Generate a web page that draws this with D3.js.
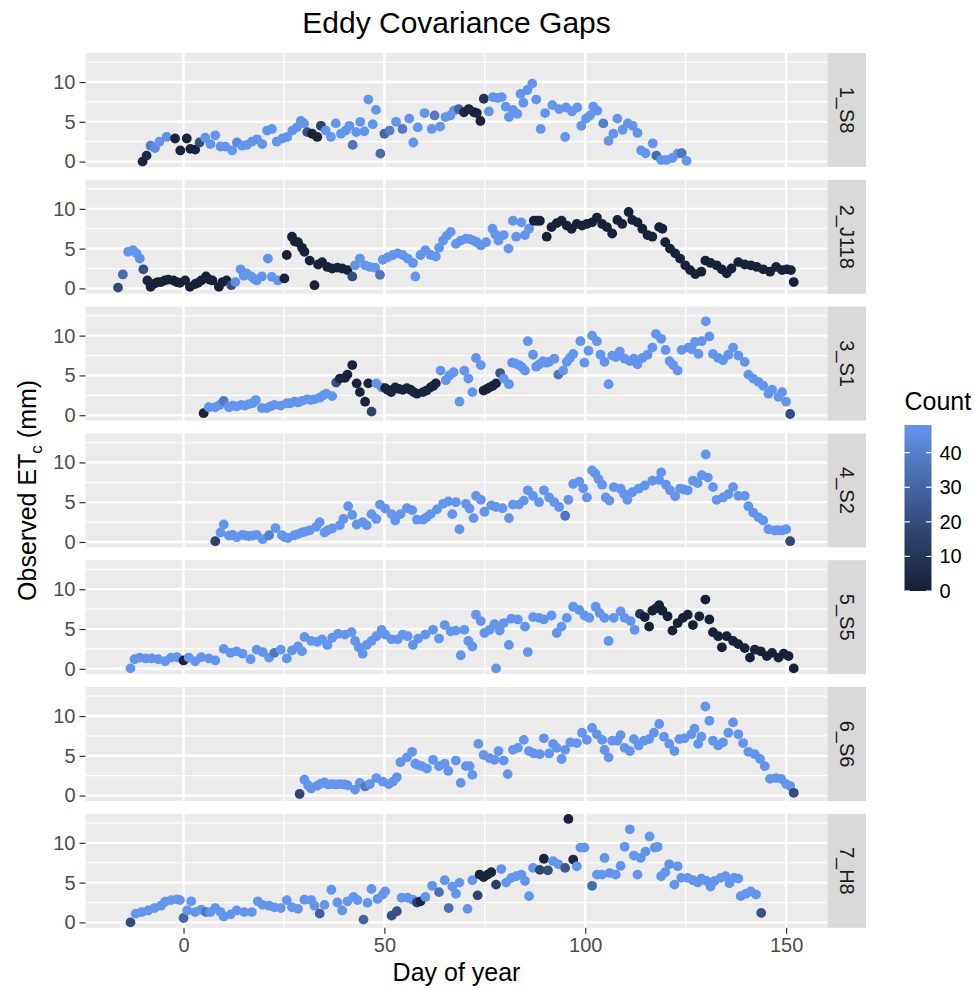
<!DOCTYPE html>
<html>
<head>
<meta charset="utf-8">
<script src="https://cdn.jsdelivr.net/npm/d3@7"></script>
<style>
  body { margin: 0; background: #ffffff; }
  svg { display: block; }
  text { font-family: "Liberation Sans", Arial, Helvetica, sans-serif; }
</style>
</head>
<body>
<svg id="chart" width="975" height="988"></svg>
<script>
// Facet labels (one panel per site)
const sites = ["1_S8", "2_J118", "3_S1", "4_S2", "5_S5", "6_S6", "7_H8"];

// Each record: [day of year, observed ETc (mm), count]
const site1 = [[-10.2,0.0,3],[-9.2,0.75,5],[-8.2,2.0,40],[-7.1,1.7,44],[-6,2.5,48],[-4.2,3.1,46],[-2.1,2.9,2],[-0.8,1.4,2],[0.8,2.9,2],[1.7,1.6,2],[2.9,1.5,2],[4,2.4,20],[5.4,3.0,48],[6.7,2.2,48],[7.9,3.3,48],[9.2,1.9,48],[10.4,1.9,48],[12.1,1.4,48],[13.3,2.4,44],[14.6,2.0,48],[15.8,2.1,48],[17,2.5,48],[18.3,2.8,48],[19.6,2.2,48],[20.8,3.9,48],[22,4.1,48],[23.2,2.5,48],[24.6,2.9,48],[25.8,3.1,48],[27.1,3.9,48],[28.2,4.3,48],[29.2,5.1,48],[30,4.8,48],[30.8,3.7,22],[32,3.5,2],[33.3,3.1,2],[34.2,4.5,15],[35.4,3.9,48],[36.7,3.1,48],[37.9,4.8,48],[39.2,3.5,48],[40.4,3.9,48],[41.3,4.5,48],[42.1,2.1,36],[43,3.7,48],[44,5.0,48],[45,3.8,48],[46,7.8,48],[47.1,4.7,48],[47.9,6.5,48],[49,1.0,32],[50,3.5,30],[51.3,3.9,40],[52.9,5.0,48],[54.5,4.1,38],[56.2,5.4,48],[57.2,2.4,48],[58.3,4.3,48],[60,6.1,48],[61.8,4.1,48],[62.5,5.8,38],[63.9,4.4,48],[65.2,5.6,48],[66.4,5.8,48],[67.3,6.4,48],[68.5,6.6,30],[69.8,6.2,4],[71,6.6,2],[72.3,6.2,2],[73,6.1,2],[73.9,5.1,2],[74.75,7.9,10],[76,6.3,48],[77,8.1,48],[78.2,8.0,48],[79.2,8.1,48],[80.2,6.9,48],[81,5.6,48],[82,6.5,48],[83.1,6.0,48],[83.9,8.5,48],[84.6,7.4,48],[85.6,9.0,48],[86.8,9.8,48],[87.8,7.8,48],[88.9,4.1,48],[90,6.1,48],[91.8,7.1,48],[93.5,6.6,48],[95,3.1,48],[95.2,6.8,48],[96.7,6.3,48],[98,6.8,48],[99,4.5,48],[100.2,5.4,48],[101.2,5.8,48],[102,6.9,48],[103,6.4,48],[104.5,4.8,40],[105.8,2.6,48],[107,3.5,48],[108,5.4,48],[109.3,4.0,48],[110.6,4.8,48],[111.8,4.5,48],[113,3.6,48],[113.9,1.4,48],[115,1.05,48],[116.8,2.3,48],[117.7,0.75,32],[118.9,0.2,48],[120.2,0.2,48],[121.7,0.45,48],[123,1.0,48],[124,1.05,36],[125.2,0.1,48]];

const site2 = [[-16.3,0.1,18],[-15.1,1.75,32],[-13.8,4.6,48],[-12.6,4.8,48],[-11.7,4.4,48],[-10.9,3.75,46],[-10,2.4,22],[-9,1.0,2],[-8.2,0.2,1],[-7.2,0.6,1],[-6.4,0.8,1],[-5.6,0.8,1],[-4.7,1.0,1],[-3.8,1.1,1],[-2.5,1.0,1],[-1.7,0.8,1],[-0.9,0.7,1],[0.4,1.0,1],[1.6,0.2,1],[2.9,0.55,1],[3.6,0.7,1],[4.4,1.0,1],[5.6,1.5,1],[6.4,1.1,1],[7.2,1.0,1],[8.8,0.2,1],[9.7,0.8,1],[10.7,1.0,1],[11.9,0.4,20],[12.9,0.8,46],[14.2,2.4,48],[15,1.6,48],[15.7,1.9,48],[16.9,1.5,48],[17.6,1.2,48],[18.2,1.0,48],[19.5,1.5,48],[21,3.75,48],[22,1.45,48],[23.5,1.0,48],[25.1,1.25,2],[25.7,4.2,1],[27,6.5,1],[27.7,5.9,1],[28.5,5.8,1],[29.5,5.1,1],[30.1,4.6,1],[31.4,3.5,1],[32.6,0.4,1],[33.5,3.0,1],[34.5,3.3,1],[35.8,2.7,1],[37,2.5,1],[38.3,2.6,1],[39.5,2.5,1],[40.8,2.3,1],[42,1.5,20],[42.7,2.9,48],[43.9,3.75,48],[45.2,2.9,48],[46.4,2.7,48],[47.7,2.6,48],[48.9,1.7,36],[49.6,3.6,48],[50.8,3.9,48],[52.1,4.2,48],[53.3,4.4,48],[54.6,4.2,48],[55.8,3.75,48],[57.1,3.2,48],[57.7,1.5,48],[59,4.2,48],[60.2,4.8,48],[61.5,4.2,48],[62.8,4.0,48],[63.6,5.1,48],[64.6,6.0,48],[65.5,6.6,48],[66.5,7.1,48],[67.8,5.6,48],[69,6.0,48],[70.3,6.25,48],[71.2,6.2,48],[72.2,6.0,48],[73,5.8,48],[74,5.4,48],[75.3,5.8,48],[76.9,7.5,48],[77.6,6.8,48],[78.4,6.0,48],[79.7,6.7,48],[80.9,5.0,48],[82,8.5,48],[82.8,6.5,48],[84.1,8.3,48],[85,6.7,48],[86,7.5,48],[87.2,8.5,1],[88,8.5,1],[88.7,8.5,1],[90.4,6.5,1],[91.6,7.7,1],[92.9,8.2,1],[94.1,8.5,1],[95.4,7.9,1],[96.6,7.5,1],[97.9,8.1,1],[99.2,7.9,1],[100.4,8.1,1],[101.7,8.3,1],[102.9,8.9,1],[104.2,8.1,1],[105.4,7.7,1],[106.7,6.9,1],[108,8.6,1],[109.2,8.1,1],[110.8,9.6,1],[111.7,8.6,1],[113,8.3,1],[114.2,7.5,1],[115.5,6.7,1],[116.7,6.5,1],[118.4,7.7,1],[119.2,7.5,1],[119.9,5.8,1],[121.1,5.0,1],[122.4,4.4,1],[123.6,3.75,1],[124.9,2.9,1],[126.1,2.3,1],[127.4,1.8,1],[128.9,2.1,1],[129.9,3.5,1],[131.2,3.2,1],[132.7,2.9,1],[134,2.4,1],[135.2,1.9,1],[136.4,2.5,1],[138.1,3.3,1],[139.7,3.0,1],[141.2,2.9,1],[142.7,2.7,1],[144.3,2.4,1],[146,2.1,1],[147.5,2.7,1],[149,2.3,1],[150.2,2.4,1],[151.2,2.3,1],[151.9,0.8,1]];

const site3 = [[5,0.25,2],[6.3,1.0,48],[7.9,1.0,48],[9,1.3,48],[10,1.8,38],[11.3,1.0,48],[12.2,1.2,48],[13.2,1.1,48],[14.4,1.3,48],[15.3,1.2,48],[16.3,1.4,48],[17.2,1.5,48],[18,1.9,48],[19.5,0.9,48],[20.7,0.9,48],[21.6,1.1,48],[22.6,1.3,48],[24.2,1.2,48],[25.7,1.5,48],[26.6,1.5,48],[27.6,1.7,48],[28.5,1.6,48],[29.5,1.8,48],[30.8,2.0,48],[31.7,1.9,48],[32.6,2.0,48],[33.9,2.2,48],[34.8,2.5,48],[35.5,2.7,48],[37,2.4,48],[38,4.1,22],[38.9,4.6,2],[40.2,4.7,2],[40.8,5.1,2],[42,6.3,2],[43.1,4.0,2],[43.9,2.9,2],[45.2,1.7,2],[46,4.0,2],[46.8,0.45,15],[48,4.0,48],[49.3,3.5,48],[50.2,3.4,2],[50.8,3.2,2],[51.7,2.9,2],[52.7,3.5,2],[53.6,3.3,2],[54.6,3.2,2],[55.6,3.4,2],[56.5,3.2,2],[57.3,2.9,2],[58.1,2.7,2],[59.6,2.9,2],[60.5,3.1,2],[61.5,3.5,2],[62.2,3.7,2],[62.8,4.0,2],[64,5.6,48],[65.3,4.4,48],[66.2,5.0,48],[67.2,5.4,48],[68.7,1.7,48],[69.9,5.6,48],[70.9,4.6,48],[71.9,2.9,48],[72.8,7.2,48],[74,6.3,48],[74.7,3.1,2],[75.5,3.3,2],[76.2,3.5,2],[77,3.7,2],[77.8,4.0,2],[78.8,5.3,25],[79.7,4.6,48],[81,3.9,48],[81.8,6.6,48],[82.6,6.5,48],[83.5,6.3,48],[84.3,6.0,48],[85,5.6,48],[85.7,9.3,48],[87,7.6,48],[87.8,6.1,48],[88.6,6.4,48],[89.5,6.8,48],[90.3,6.6,48],[91,6.7,48],[92.3,7.1,48],[93.3,5.1,36],[94.5,5.6,48],[95.4,6.7,48],[96.2,7.2,48],[97,7.7,48],[98.8,9.3,48],[99.8,6.6,48],[100.8,8.1,48],[101.7,10.0,48],[102.9,9.3,48],[103.8,7.6,48],[104.8,6.7,48],[105.8,3.9,48],[106.7,7.5,48],[107.6,7.3,48],[108.6,8.0,48],[109.8,7.1,48],[111.1,6.8,48],[112.1,7.1,48],[113,6.4,48],[114.2,7.2,48],[115.5,7.6,48],[116.7,8.5,48],[117.6,10.2,48],[118.9,9.6,48],[120,8.2,48],[121,6.8,48],[121.9,6.3,48],[123,5.6,48],[124,8.2,48],[125.7,8.5,48],[126.5,8.3,48],[127.3,9.2,48],[128.2,7.7,48],[129,9.3,48],[130,11.8,48],[130.9,9.9,48],[131.8,7.7,48],[133.1,7.2,48],[134.3,6.9,48],[135.6,7.6,48],[136.8,8.5,48],[138.1,7.5,48],[139.7,6.7,48],[140.6,5.1,48],[141.8,4.6,48],[143.1,4.2,48],[144.3,3.7,48],[145.6,2.7,48],[146.5,3.2,48],[148.1,2.3,48],[149,2.9,48],[150,1.7,48],[151,0.15,20]];

const site4 = [[7.9,0.1,15],[9.2,1.2,48],[10,2.2,48],[11.3,0.8,48],[12.2,0.9,48],[13.2,0.6,48],[14.7,0.9,48],[15.5,0.8,48],[16.3,0.75,48],[17.2,0.8,48],[18.2,0.9,48],[19.7,0.35,48],[21.3,0.85,40],[22.9,1.75,48],[24.5,0.85,48],[25.2,0.6,48],[26,0.5,48],[27.6,0.85,48],[28.5,1.0,48],[29.5,1.2,48],[30.4,1.3,48],[31.4,1.45,48],[33,1.9,48],[33.9,2.5,48],[35.1,1.2,48],[36,1.5,48],[37,1.7,48],[38.9,2.1,48],[39.8,2.9,48],[41,4.5,48],[42,3.4,48],[43.1,2.2,48],[44.6,2.5,48],[45.6,2.1,48],[46.8,3.5,48],[48,2.9,48],[48.9,4.7,48],[50.2,4.2,48],[51.8,3.5,48],[52.7,2.7,48],[54,3.5,48],[55.6,4.25,48],[56.9,4.0,48],[58.1,2.8,48],[59.6,2.8,48],[60.5,3.1,48],[61.5,3.5,48],[63.1,4.1,48],[64.6,4.8,48],[65.9,5.1,48],[66.9,3.5,48],[67.8,5.0,48],[68.7,1.6,48],[70.3,4.8,48],[71.2,4.2,48],[72.2,3.0,48],[72.8,5.8,48],[74,5.3,48],[74.9,3.8,48],[76.6,4.6,48],[77.8,4.4,48],[79.4,4.25,48],[81,3.0,48],[82,4.7,48],[83.5,4.7,48],[84.7,5.2,48],[85.7,6.5,48],[87,5.8,48],[88.5,5.0,48],[89.7,6.5,48],[91,5.6,48],[92.3,5.0,48],[93.5,4.4,48],[95,3.3,36],[95.8,5.3,48],[97,7.3,48],[98.5,7.6,48],[99.5,6.75,48],[100.4,5.6,48],[101.7,9.0,48],[102.5,8.6,48],[103.3,7.9,48],[104.2,7.2,48],[105.1,5.6,48],[106,5.2,48],[107.1,6.9,48],[108.8,6.7,48],[109.7,6.0,48],[110.5,5.3,48],[111.7,6.25,48],[113.3,6.7,48],[114.8,7.1,48],[116.7,7.7,48],[118.4,7.8,48],[118.9,8.75,48],[120.1,7.2,48],[121.1,6.5,48],[122.4,5.75,48],[123.6,6.7,48],[124.5,6.6,48],[125.5,6.5,48],[126.8,7.7,48],[128,7.4,48],[129,8.4,48],[130,11.0,48],[130.5,8.1,48],[131.8,6.9,48],[132.7,5.3,48],[134.3,5.6,48],[135.6,6.0,48],[136.8,6.9,48],[138.1,5.8,48],[139.7,5.8,48],[140.6,4.5,48],[141.8,3.7,48],[143.1,3.1,48],[144.3,2.7,48],[145.6,1.6,48],[147.2,1.45,48],[148,1.5,48],[149,1.45,48],[150,1.6,48],[151,0.1,18]];

const site5 = [[-13.2,0.05,48],[-12.2,1.2,48],[-10.9,1.4,48],[-9.4,1.3,48],[-7.9,1.3,48],[-6.3,1.2,48],[-4.6,0.95,48],[-3.1,1.4,48],[-1.6,1.45,48],[0,1.05,2],[1.3,1.4,48],[2.9,0.95,48],[4.4,1.45,48],[6.3,1.3,48],[7.9,1.05,48],[10,2.5,48],[11.7,2.0,48],[13.2,2.2,48],[14.7,1.9,48],[16.7,1.2,48],[18.2,2.4,48],[19.7,2.1,48],[21.3,1.4,48],[22.6,2.0,36],[24.2,2.4,48],[25.7,1.3,48],[27,2.3,48],[28.5,2.8,48],[29.5,2.2,48],[30.1,4.0,48],[31.8,3.5,48],[33.3,3.4,48],[34.5,3.7,48],[35.8,3.0,48],[37,3.9,48],[38.5,4.4,48],[40.2,4.3,48],[41.8,4.6,48],[42.7,3.5,48],[43.6,2.7,48],[44.6,1.9,48],[45.6,3.0,48],[46.8,3.5,48],[48,4.1,48],[49.3,4.9,48],[50.2,4.3,48],[51.8,3.7,48],[53.3,3.7,48],[54.6,4.3,48],[55.8,4.1,48],[57.1,3.0,48],[58.4,3.8,48],[60.2,4.3,48],[62.1,4.9,48],[63.6,3.8,48],[65,5.5,48],[66.5,4.7,48],[67.8,4.8,48],[69,1.7,48],[69.9,4.9,48],[70.9,3.5,48],[71.9,2.8,48],[72.8,6.8,48],[74,6.0,48],[74.9,4.5,48],[76.2,4.9,48],[77.4,5.6,48],[77.8,0.05,48],[78.7,4.8,48],[79.7,5.75,48],[81,3.0,48],[81.6,6.3,48],[83.2,6.2,48],[85,5.3,48],[85.7,2.1,48],[87,6.5,48],[88.5,6.4,48],[89.7,6.2,48],[91.6,6.7,48],[92.9,4.5,48],[94.1,5.3,48],[95.4,6.4,48],[97,7.8,48],[98.5,7.4,48],[99.8,6.7,48],[101,6.4,48],[102.6,7.8,48],[103.6,7.0,48],[104.8,6.4,48],[105.8,3.5,48],[107.1,6.4,48],[108.8,7.2,48],[109.8,6.4,48],[111.3,6.0,48],[112.3,4.9,48],[113.6,6.9,10],[114.8,6.5,1],[115.9,5.3,1],[116.7,7.3,1],[117.6,7.6,1],[118.4,8.0,1],[119.2,7.3,1],[120.5,6.6,1],[121.7,4.8,1],[123,5.75,1],[124.3,6.4,1],[125.5,6.8,1],[126.8,5.5,1],[128.4,6.6,1],[129.9,8.7,1],[130.9,6.2,1],[131.8,4.6,1],[133.1,4.1,1],[134,2.7,1],[135.2,4.1,1],[136.8,3.5,1],[138.1,3.1,1],[139.7,2.6,1],[141,1.4,1],[142.2,2.4,1],[143.7,2.2,1],[145.2,1.6,1],[146.5,2.0,1],[148.1,1.4,1],[149.4,1.9,1],[150.6,1.6,1],[151.9,0.05,1]];

const site6 = [[28.9,0.2,18],[30.1,2.0,48],[31,1.3,48],[31.8,0.9,48],[33.3,1.25,48],[34.2,1.5,48],[35.1,1.65,48],[36,1.4,48],[37,1.45,48],[38,1.4,48],[38.9,1.45,48],[40,1.4,48],[40.8,1.3,48],[42.7,0.75,48],[43.9,1.6,48],[45.2,1.15,38],[46.4,1.45,48],[48,2.2,48],[49.6,1.75,48],[51.1,1.45,48],[52.1,1.75,48],[53.1,2.3,48],[54,4.2,48],[55.6,4.8,48],[56.9,5.5,48],[57.7,4.0,48],[58.5,3.8,48],[59.3,3.7,48],[60.6,3.4,48],[62.1,4.5,48],[63.6,3.7,48],[65,4.0,48],[65.9,3.1,48],[67.8,4.4,48],[69,1.6,48],[70.3,3.7,48],[71.2,3.7,48],[71.9,2.6,48],[73.4,6.5,48],[74.7,5.1,48],[76.2,4.7,48],[77.4,4.5,48],[78.4,5.6,48],[79.7,4.4,48],[80.7,2.7,48],[82,5.75,48],[83.2,6.0,48],[84.7,7.0,48],[86,5.6,48],[87.2,5.3,48],[88.7,5.2,48],[89.7,7.2,48],[91,5.3,48],[92,6.5,48],[92.9,6.0,48],[94.1,4.6,48],[95,5.75,48],[96.3,6.7,48],[97.9,6.6,48],[99.2,7.9,48],[100.4,7.0,48],[101.7,8.5,48],[102.9,7.7,48],[104.2,7.0,48],[104.8,5.75,48],[105.8,4.8,48],[106.7,6.9,48],[108,6.9,48],[108.8,7.6,48],[109.8,6.0,48],[111.1,5.6,48],[112.1,7.1,48],[113.3,6.3,48],[114.6,6.9,48],[115.9,7.1,48],[117.1,7.9,48],[118.4,9.0,48],[119.6,7.4,48],[120.9,6.5,48],[122.2,5.6,48],[123.4,7.1,48],[124.7,7.2,48],[126.4,7.7,48],[127.2,8.4,48],[128.1,6.5,48],[128.9,7.4,48],[129.9,11.2,48],[130.9,9.4,48],[131.8,6.9,48],[133.1,6.3,48],[134.3,6.7,48],[135.6,7.9,48],[136.8,9.2,48],[138.1,7.7,48],[139.3,6.6,48],[140.6,5.5,48],[142.2,5.2,48],[143.5,4.6,48],[144.7,3.7,48],[146,2.1,48],[147.5,2.2,48],[148.8,2.1,48],[150,1.45,48],[151,1.2,48],[151.9,0.35,20]];

const site7 = [[-13.2,0.0,20],[-11.9,1.1,48],[-10.4,1.3,48],[-8.8,1.5,48],[-7.2,1.8,48],[-5.6,2.1,48],[-4.6,2.6,48],[-3.1,2.8,48],[-1.6,2.9,48],[-0.9,2.8,48],[0,0.55,30],[0.9,1.5,48],[1.9,2.65,48],[2.9,1.3,48],[4.4,1.6,48],[5.6,1.3,36],[6.7,1.3,48],[7.9,1.8,48],[9.2,1.3,48],[10,0.75,48],[11.7,1.0,48],[13.2,1.5,48],[15.1,1.3,48],[17,1.3,48],[18.5,2.65,48],[19.7,2.2,48],[21.3,2.1,48],[22.6,1.9,48],[24.2,1.8,48],[25.7,2.8,48],[27,1.9,48],[28.5,1.7,48],[30.1,2.85,48],[31.8,2.8,48],[32.6,2.1,48],[33.9,1.1,28],[35.1,2.2,48],[36.8,4.1,48],[38.3,2.5,48],[39.5,1.5,48],[40.8,2.65,48],[42.3,3.2,48],[43.3,2.8,48],[44.8,0.35,30],[45.8,2.45,48],[46.8,4.2,48],[48.3,2.95,48],[49.6,3.5,48],[50.2,3.9,48],[51.8,0.85,22],[53.1,1.4,22],[54.3,3.1,48],[55.8,3.1,48],[57.1,2.85,48],[58.1,2.5,16],[59,2.65,4],[60.2,3.2,48],[61.9,4.6,48],[63.6,3.8,34],[65,5.3,48],[66,1.8,34],[66.9,4.5,48],[67.8,3.6,48],[68.7,5.0,48],[70.7,1.7,48],[71.9,5.3,48],[73.2,3.4,16],[73.7,6.0,2],[74.7,5.7,2],[75.7,6.0,2],[76.6,6.3,2],[77.8,4.75,14],[79.1,6.7,48],[80.3,5.0,48],[81.6,5.6,48],[82.8,5.8,48],[84.1,6.0,48],[85,5.2,48],[86,3.3,48],[87,6.85,48],[88.7,6.6,16],[89.7,8.0,2],[90.7,6.55,20],[92,7.7,48],[93.3,7.3,48],[95,6.85,24],[95.8,13.0,1],[97,7.9,4],[97.9,7.05,48],[98.8,9.4,48],[99.8,9.4,48],[101.7,4.6,32],[102.9,6.0,48],[104.2,6.0,48],[104.8,8.1,48],[106.1,6.2,48],[107.6,6.0,48],[108.8,7.1,48],[109.8,9.5,48],[111.1,11.7,48],[112.1,8.4,48],[113,6.0,48],[113.8,8.1,48],[115,8.9,48],[116,10.8,48],[117.3,9.4,48],[118,9.5,48],[118.9,5.8,48],[119.9,6.3,48],[120.9,7.3,48],[122.2,4.75,48],[123,7.05,48],[123.9,5.6,48],[125.5,5.6,48],[126.8,5.3,48],[128,5.0,48],[128.9,5.5,48],[130.2,5.2,48],[131.2,4.5,48],[132.2,5.2,48],[133.7,5.6,48],[134.9,5.8,48],[135.9,4.9,48],[137.1,5.6,48],[138.1,5.5,48],[138.7,3.3,48],[140,3.6,48],[141.2,3.9,48],[142.5,3.5,48],[143.8,1.2,22]];

const siteData = [site1, site2, site3, site4, site5, site6, site7];

// Axis breaks and colour-bar breaks
const xTicks = [0, 50, 100, 150];
const xMinor = [25, 75, 125];
const yTicks = [0, 5, 10];
const yMinor = [2.5, 7.5, 12.5];
const countTicks = [0, 10, 20, 30, 40];
const countMax = 48;

// ---- layout ----
const panelLeft = 85.5, panelRight = 827.5;
const panelTop = 53, panelH = 114, panelGap = 12.8;
const stripW = 38.5;
const tickLen = 6;

const x = d3.scaleLinear().domain([-24.4, 160.3]).range([panelLeft, panelRight]);
const y = d3.scaleLinear().domain([-0.68, 13.65]).range([panelH, 0]);
const color = d3.scaleLinear()
  .domain([0, countMax])
  .range(["#161F35", "#6495ED"])
  .interpolate(d3.interpolateLab);

const svg = d3.select("#chart");
svg.append("rect").attr("width", 975).attr("height", 988).attr("fill", "#ffffff");

// Title
svg.append("text")
  .attr("x", (panelLeft + panelRight) / 2).attr("y", 33)
  .attr("text-anchor", "middle")
  .attr("font-size", 30).attr("fill", "#000000")
  .text("Eddy Covariance Gaps");

siteData.forEach((rows, i) => {
  const top = panelTop + i * (panelH + panelGap);
  const g = svg.append("g").attr("transform", `translate(0,${top})`);

  // panel background
  g.append("rect")
    .attr("x", panelLeft).attr("y", 0)
    .attr("width", panelRight - panelLeft).attr("height", panelH)
    .attr("fill", "#EBEBEB");

  // minor grid
  g.selectAll(".ymin").data(yMinor).join("line")
    .attr("x1", panelLeft).attr("x2", panelRight)
    .attr("y1", d => y(d)).attr("y2", d => y(d))
    .attr("stroke", "#ffffff").attr("stroke-width", 1.2);
  g.selectAll(".xmin").data(xMinor).join("line")
    .attr("x1", d => x(d)).attr("x2", d => x(d))
    .attr("y1", 0).attr("y2", panelH)
    .attr("stroke", "#ffffff").attr("stroke-width", 1.2);

  // major grid
  g.selectAll(".ymaj").data(yTicks).join("line")
    .attr("x1", panelLeft).attr("x2", panelRight)
    .attr("y1", d => y(d)).attr("y2", d => y(d))
    .attr("stroke", "#ffffff").attr("stroke-width", 2.4);
  g.selectAll(".xmaj").data(xTicks).join("line")
    .attr("x1", d => x(d)).attr("x2", d => x(d))
    .attr("y1", 0).attr("y2", panelH)
    .attr("stroke", "#ffffff").attr("stroke-width", 2.4);

  // points
  g.append("g").selectAll("circle").data(rows).join("circle")
    .attr("cx", d => x(d[0]))
    .attr("cy", d => y(d[1]))
    .attr("r", 4.9)
    .attr("fill", d => color(d[2]));

  // y axis
  const ya = g.append("g").attr("transform", `translate(${panelLeft},0)`)
    .call(d3.axisLeft(y).tickValues(yTicks).tickSize(tickLen).tickPadding(4));
  ya.select(".domain").remove();
  ya.selectAll(".tick line").attr("stroke", "#333333").attr("stroke-width", 1.2);
  ya.selectAll(".tick text")
    .attr("fill", "#4D4D4D").attr("font-size", 20)
    .attr("font-family", "Liberation Sans, Arial, sans-serif");

  // strip
  g.append("rect")
    .attr("x", panelRight).attr("y", 0)
    .attr("width", stripW).attr("height", panelH)
    .attr("fill", "#D9D9D9");
  g.append("text")
    .attr("transform", `translate(${panelRight + stripW / 2},${panelH / 2}) rotate(90)`)
    .attr("text-anchor", "middle").attr("dominant-baseline", "central")
    .attr("font-size", 20).attr("fill", "#1A1A1A")
    .text(sites[i]);

  // x axis under the last panel
  if (i === siteData.length - 1) {
    const xa = g.append("g").attr("transform", `translate(0,${panelH})`)
      .call(d3.axisBottom(x).tickValues(xTicks).tickSize(tickLen).tickPadding(4).tickFormat(d3.format("d")));
    xa.select(".domain").remove();
    xa.selectAll(".tick line").attr("stroke", "#333333").attr("stroke-width", 1.2);
    xa.selectAll(".tick text")
      .attr("fill", "#4D4D4D").attr("font-size", 20)
      .attr("font-family", "Liberation Sans, Arial, sans-serif");
  }
});

const panelsBottom = panelTop + siteData.length * panelH + (siteData.length - 1) * panelGap;

// Axis titles
svg.append("text")
  .attr("x", (panelLeft + panelRight) / 2).attr("y", 981)
  .attr("text-anchor", "middle").attr("font-size", 25).attr("fill", "#000000")
  .text("Day of year");

const yt = svg.append("text")
  .attr("transform", `translate(36,${(panelTop + panelsBottom) / 2}) rotate(-90)`)
  .attr("text-anchor", "middle").attr("font-size", 25).attr("fill", "#000000");
yt.append("tspan").text("Observed ET");
yt.append("tspan").attr("font-size", 17).attr("dy", 6).text("c");
yt.append("tspan").attr("dy", -6).text(" (mm)");

// Colour bar legend
const barX = 904.5, barW = 27, barTop = 425, barBottom = 591;
const cy = d3.scaleLinear().domain([0, countMax]).range([barBottom, barTop]);
const defs = svg.append("defs");
const grad = defs.append("linearGradient").attr("id", "countGrad")
  .attr("x1", 0).attr("y1", 1).attr("x2", 0).attr("y2", 0);
d3.range(0, 11).forEach(k => {
  grad.append("stop").attr("offset", k / 10).attr("stop-color", color(countMax * k / 10));
});
svg.append("text")
  .attr("x", barX).attr("y", 410)
  .attr("font-size", 25).attr("fill", "#000000")
  .text("Count");
svg.append("rect")
  .attr("x", barX).attr("y", barTop).attr("width", barW).attr("height", barBottom - barTop)
  .attr("fill", "url(#countGrad)");
const lg = svg.append("g");
lg.selectAll(".tl").data(countTicks).join("line")
  .attr("x1", barX).attr("x2", barX + barW / 5)
  .attr("y1", d => cy(d)).attr("y2", d => cy(d))
  .attr("stroke", "#ffffff").attr("stroke-width", 1.2);
lg.selectAll(".tr").data(countTicks).join("line")
  .attr("x1", barX + barW * 4 / 5).attr("x2", barX + barW)
  .attr("y1", d => cy(d)).attr("y2", d => cy(d))
  .attr("stroke", "#ffffff").attr("stroke-width", 1.2);
lg.selectAll("text").data(countTicks).join("text")
  .attr("x", barX + barW + 8).attr("y", d => cy(d))
  .attr("dominant-baseline", "central")
  .attr("font-size", 20).attr("fill", "#000000")
  .text(d => d);
</script>
</body>
</html>
